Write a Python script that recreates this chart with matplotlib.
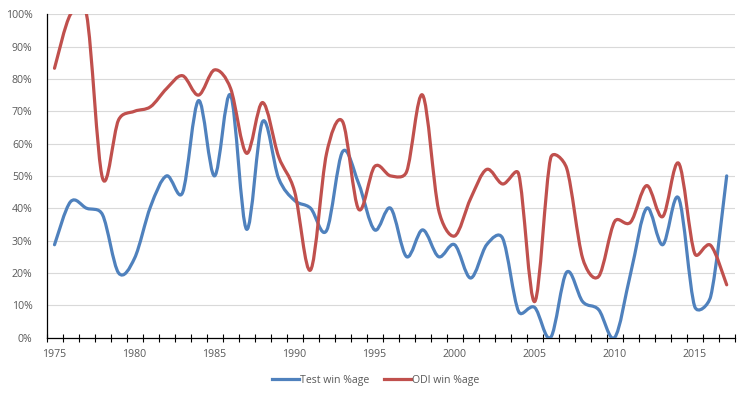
import matplotlib
matplotlib.use("Agg")
import matplotlib.pyplot as plt
from matplotlib.path import Path
from matplotlib.patches import PathPatch
from matplotlib.lines import Line2D
import numpy as np

years = list(range(1975, 2018))
test_win = [28.7, 42, 40, 38, 20, 24.5, 40.5, 50, 44.8, 73.3,
            50, 75, 33.5, 66.8, 49.3, 42.4, 40, 33.1, 57.5, 47.7,
            33.3, 40, 25, 33.3, 25, 28.7, 18.4, 28.7, 30.7, 8,
            9.3, 0, 20.2, 11.1, 8.6, 0, 19.9, 40, 28.7, 43.1,
            9.6, 12.7, 50]
odi_win = [83.3, 100, 100, 49.3, 67.3, 70, 71.4, 77, 81, 75,
           82.8, 77.1, 57, 72.7, 56, 45.2, 20.9, 57, 66.8, 39.7,
           52.9, 50, 51.3, 75, 39.5, 31.4, 43, 52, 47.5, 50.6,
           11.1, 55.5, 52.4, 24.5, 18.9, 35.9, 35.7, 47, 37.4, 53.9,
           26, 28.5, 16.3]
series_names = ["Test win %age", "ODI win %age"]
series_colors = ["#4F81BD", "#C0504D"]

plt.rcParams['font.family'] = ['Open Sans', 'DejaVu Sans']

fig = plt.figure(figsize=(7.52, 3.99), dpi=100)
ax = fig.add_axes([46.5/752, 1 - 337.5/399, (734.7 - 46.5)/752, (337.5 - 14.3)/399])

# pixel scale used only to judge curve tension like a spreadsheet smoother
SX, SY = 16.0, 323.0


def smooth_path(xs, ys):
    pts = np.column_stack([xs, ys]).astype(float)
    scale = np.array([SX, SY])
    n = len(pts)

    def tangent(i):
        p_prev = pts[i - 1] if i > 0 else pts[i]
        p_next = pts[i + 1] if i + 1 < n else pts[i]
        v = (p_next - p_prev) / 6.0
        vl = np.linalg.norm(v * scale)
        d_in = np.linalg.norm((pts[i] - p_prev) * scale)
        d_out = np.linalg.norm((p_next - pts[i]) * scale)
        s_in = min(1.0, 0.5 * d_in / vl) if vl > 0 else 0.0
        s_out = min(1.0, 0.5 * d_out / vl) if vl > 0 else 0.0
        if i == 0:
            s_in = s_out
        if i == n - 1:
            s_out = s_in
        return v * s_in, v * s_out

    tans = [tangent(i) for i in range(n)]
    verts = [pts[0]]
    codes = [Path.MOVETO]
    for i in range(n - 1):
        c1 = pts[i] + tans[i][1]
        c2 = pts[i + 1] - tans[i + 1][0]
        verts += [c1, c2, pts[i + 1]]
        codes += [Path.CURVE4] * 3
    return Path(verts, codes)


xs = np.arange(len(years))
for vals, color in zip([test_win, odi_win], series_colors):
    ys = np.array(vals) / 100.0
    patch = PathPatch(smooth_path(xs, ys), fill=False, edgecolor=color,
                      lw=2.3, capstyle='round', joinstyle='round', zorder=3)
    ax.add_patch(patch)

ax.set_xlim(-0.5, len(years) - 0.5)
ax.set_ylim(0, 1.0)

yt = np.arange(0, 1.01, 0.1)
ax.set_yticks(yt)
ax.set_yticklabels([f"{int(round(v*100))}%" for v in yt])
ax.yaxis.grid(True, color="#D9D9D9", lw=0.8)
ax.set_axisbelow(True)
ax.tick_params(axis='y', length=0, pad=10, labelsize=7.6, labelcolor="#595959")

major = [i for i, y in enumerate(years) if y % 5 == 0]
ax.set_xticks(major)
ax.set_xticklabels([str(years[i]) for i in major])
ax.set_xticks(np.arange(-0.5, len(years), 1.0), minor=True)
ax.tick_params(axis='x', which='major', length=0, pad=8.5, labelsize=7.6, labelcolor="#595959")
ax.tick_params(axis='x', which='minor', direction='inout', length=5.4, width=0.8, color='black')

for s in ['top', 'right']:
    ax.spines[s].set_visible(False)
ax.spines['left'].set_color('black')
ax.spines['bottom'].set_color('black')
ax.spines['left'].set_linewidth(0.9)
ax.spines['bottom'].set_linewidth(0.9)

handles = [Line2D([0], [0], color=c, lw=2.3) for c in series_colors]
fig.legend(handles, series_names, loc='center', bbox_to_anchor=(0.5, 1 - 380/399),
           ncol=2, frameon=False, fontsize=7.6, handlelength=2.5, handletextpad=0.15,
           columnspacing=1.4, labelcolor="#595959")

fig.savefig("out.png", dpi=100)
